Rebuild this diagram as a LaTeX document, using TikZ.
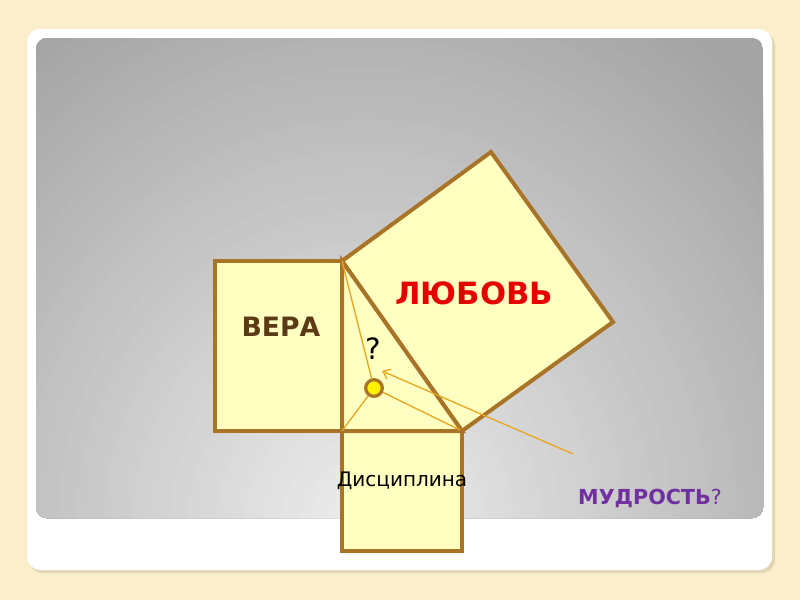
\documentclass[tikz,border=0pt]{standalone}
\usepackage{fontspec}
\setmainfont{DejaVu Sans}
\usetikzlibrary{arrows.meta, positioning}

\definecolor{cream}{RGB}{251,238,204}
\definecolor{creamshade}{RGB}{226,214,180}
\definecolor{boxfill}{RGB}{255,255,193}
\definecolor{boxline}{RGB}{168,116,40}
\definecolor{guideline}{RGB}{233,166,32}
\definecolor{veracol}{RGB}{92,58,22}
\definecolor{lovecol}{RGB}{230,0,0}
\definecolor{wisecol}{RGB}{112,48,160}
\definecolor{bglight}{RGB}{239,239,239}
\definecolor{bgdark}{RGB}{164,164,164}

\begin{document}
\begin{tikzpicture}[
        x = 0.75pt, y = -0.75pt,
       sq/.style = {draw=boxline, fill=boxfill, line width=3pt},
    guide/.style = {draw=guideline, line width=1pt},
    label/.style = {inner sep=0pt, font=\fontsize{20}{24}\selectfont\bfseries},
        > = {Straight Barb[length=5pt, width=8pt]},
         ]
\useasboundingbox (0,0) rectangle (800,600);
% slide
\fill[cream] (0,0) rectangle (800,600);
\fill[creamshade, rounded corners=10] (29,32) rectangle (775,573);
\fill[white, rounded corners=10] (27,29) rectangle (772,570);
\begin{scope}
\clip[rounded corners=8] (36,38) rectangle (763,518);
\fill[bgdark] (36,38) rectangle (763,518);
\foreach \r in {60,59,...,1} {
  \pgfmathtruncatemacro\pct{100*(60-\r)/60}
  \fill[bglight!\pct!bgdark] (365,530) ellipse [x radius=\r*7pt, y radius=\r*7.7pt];
}
\end{scope}

% triangle corners
\coordinate (A)  at (342,261);
\coordinate (B)  at (342,431);
\coordinate (C)  at (462,431);
\coordinate (D)  at (491,152);
\coordinate (E)  at (613,322);

% squares
\draw[sq] (215,261) rectangle (B);
\draw[sq] (B) rectangle (462,551);
\draw[sq] (A) -- (D) -- (E) -- (C) -- cycle;
\draw[sq] (A) -- (B) -- (C) -- cycle;

% point and guides
\node (pt) [circle, draw=boxline, fill=yellow, line width=2.4pt,
            minimum size=12.5pt, inner sep=0pt] at (374,388) {};
\draw[guide] (pt) -- (A);
\draw[guide] (pt) -- (B);
\draw[guide] (pt) -- (460,430);
\coordinate (tail) at (573,454);
\coordinate (tip)  at (382,371);
\draw[guide, ->] (tail) -- (tip);

% texts
\node (vera) [label, text=veracol] at (281,327) {ВЕРА};
\node (love) [label, text=lovecol, font=\fontsize{23}{27}\selectfont\bfseries]
      at (474,293) {ЛЮБОВЬ};
\node (qm)   [inner sep=0pt, font=\fontsize{22}{26}\selectfont] at (373,349) {?};
\node (disc) [inner sep=0pt, font=\fontsize{15}{18}\selectfont] at (402,481) {Дисциплина};
\node (wise) [inner sep=0pt, text=wisecol, font=\fontsize{15.5}{18}\selectfont]
      at (650,498) {\textbf{МУДРОСТЬ}?};
\end{tikzpicture}
\end{document}
